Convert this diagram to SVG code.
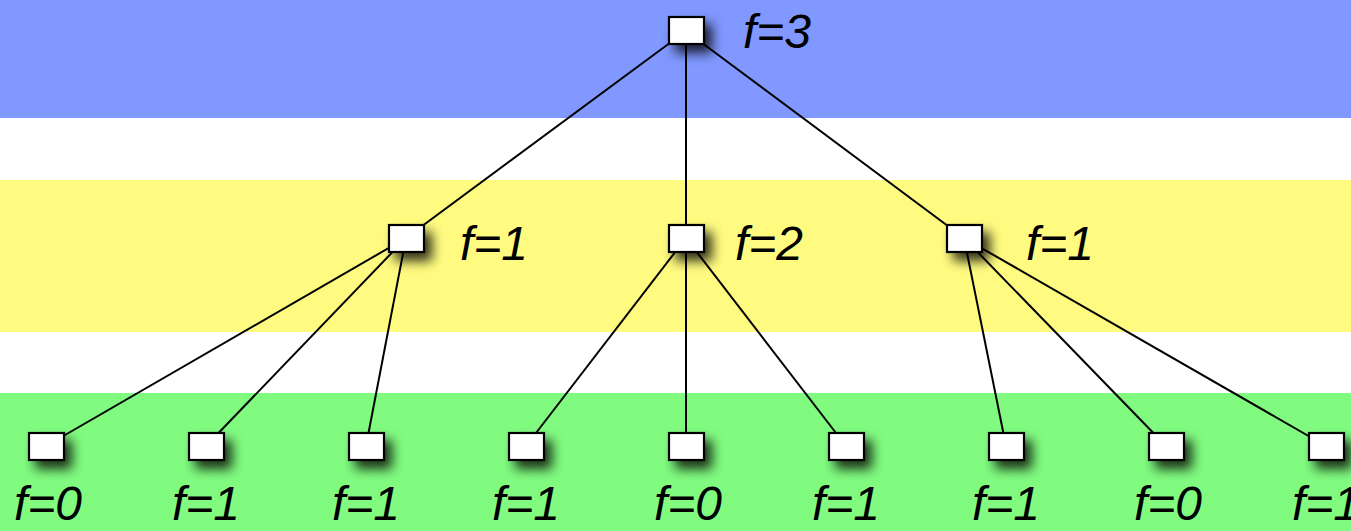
<svg xmlns="http://www.w3.org/2000/svg" width="1351" height="531" viewBox="0 0 1351 531">
<style>
.node rect{fill:#fff;stroke:#000;stroke-width:2.2}
.lbl{font-family:"Liberation Sans","DejaVu Sans",sans-serif;font-style:italic;font-size:48px;fill:#000}
.bl{text-anchor:middle}
#edges line{stroke:#000;stroke-width:2}
</style>
<defs>
<filter id="sh" x="-80%" y="-80%" width="300%" height="300%">
<feGaussianBlur in="SourceAlpha" stdDeviation="6"/>
<feOffset dx="7" dy="8" result="b"/>
<feComponentTransfer><feFuncA type="linear" slope="0.8"/></feComponentTransfer>
<feMerge><feMergeNode/><feMergeNode in="SourceGraphic"/></feMerge>
</filter>
</defs>
<g id="bands">
<rect x="0" y="0" width="1351" height="118" fill="#8098ff"/>
<rect x="0" y="180" width="1351" height="152" fill="#fffb80"/>
<rect x="0" y="393" width="1351" height="138" fill="#80fb80"/>
</g>
<g id="edges">
<line x1="686" y1="31" x2="406" y2="238"/>
<line x1="686" y1="31" x2="686" y2="238"/>
<line x1="686" y1="31" x2="964" y2="238"/>
<line x1="406" y1="238" x2="46" y2="446"/>
<line x1="406" y1="238" x2="206" y2="446"/>
<line x1="406" y1="238" x2="366" y2="446"/>
<line x1="686" y1="238" x2="526" y2="446"/>
<line x1="686" y1="238" x2="686" y2="446"/>
<line x1="686" y1="238" x2="846" y2="446"/>
<line x1="964" y1="238" x2="1006" y2="446"/>
<line x1="964" y1="238" x2="1166" y2="446"/>
<line x1="964" y1="238" x2="1326" y2="446"/>
</g>
<g id="n0" class="node"><rect x="669" y="17" width="35" height="27" filter="url(#sh)"/><text class="lbl" x="743" y="48">f=3</text></g>
<g id="n1" class="node"><rect x="389" y="225" width="35" height="27" filter="url(#sh)"/><text class="lbl" x="460" y="260">f=1</text></g>
<g id="n2" class="node"><rect x="669" y="225" width="35" height="27" filter="url(#sh)"/><text class="lbl" x="735" y="260">f=2</text></g>
<g id="n3" class="node"><rect x="947" y="225" width="35" height="27" filter="url(#sh)"/><text class="lbl" x="1026" y="260">f=1</text></g>
<g id="n4" class="node"><rect x="29" y="433" width="35" height="27" filter="url(#sh)"/><text class="lbl bl" x="48" y="520">f=0</text></g>
<g id="n5" class="node"><rect x="189" y="433" width="35" height="27" filter="url(#sh)"/><text class="lbl bl" x="206" y="520">f=1</text></g>
<g id="n6" class="node"><rect x="349" y="433" width="35" height="27" filter="url(#sh)"/><text class="lbl bl" x="366" y="520">f=1</text></g>
<g id="n7" class="node"><rect x="509" y="433" width="35" height="27" filter="url(#sh)"/><text class="lbl bl" x="526" y="520">f=1</text></g>
<g id="n8" class="node"><rect x="669" y="433" width="35" height="27" filter="url(#sh)"/><text class="lbl bl" x="688" y="520">f=0</text></g>
<g id="n9" class="node"><rect x="829" y="433" width="35" height="27" filter="url(#sh)"/><text class="lbl bl" x="846" y="520">f=1</text></g>
<g id="n10" class="node"><rect x="989" y="433" width="35" height="27" filter="url(#sh)"/><text class="lbl bl" x="1006" y="520">f=1</text></g>
<g id="n11" class="node"><rect x="1149" y="433" width="35" height="27" filter="url(#sh)"/><text class="lbl bl" x="1168" y="520">f=0</text></g>
<g id="n12" class="node"><rect x="1309" y="433" width="35" height="27" filter="url(#sh)"/><text class="lbl bl" x="1326" y="520">f=1</text></g>
</svg>
